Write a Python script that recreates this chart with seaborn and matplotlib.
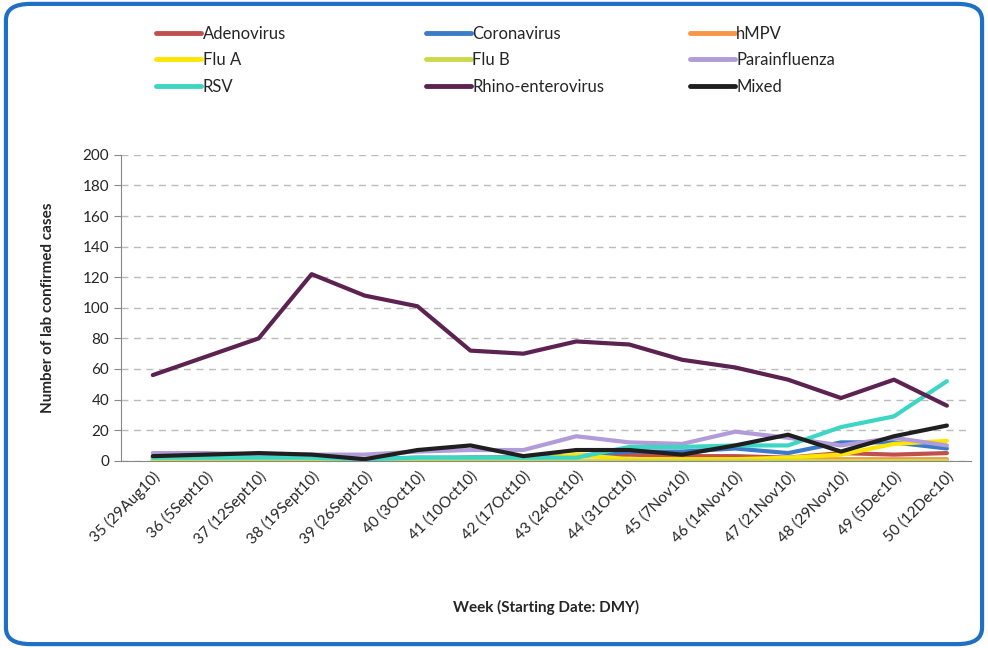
import pandas as pd
import numpy as np
import matplotlib.pyplot as plt
import seaborn as sns
from matplotlib.patches import FancyBboxPatch

# Weekly lab confirmed cases by virus

weeks = ['35 (29Aug10)', '36 (5Sept10)', '37 (12Sept10)', '38 (19Sept10)',
         '39 (26Sept10)', '40 (3Oct10)', '41 (10Oct10)', '42 (17Oct10)',
         '43 (24Oct10)', '44 (31Oct10)', '45 (7Nov10)', '46 (14Nov10)',
         '47 (21Nov10)', '48 (29Nov10)', '49 (5Dec10)', '50 (12Dec10)']

adenovirus = [1, 1, 1, 1, 1, 1, 2, 2, 3, 4, 3, 3, 2, 5, 4, 5]
coronavirus = [2, 2, 2, 2, 1, 2, 2, 2, 3, 6, 6, 8, 5, 12, 12, 8]
hmpv = [0, 0, 0, 0, 0, 0, 0, 0, 0, 0, 0, 1, 1, 1, 1, 1]
flu_a = [0, 0, 0, 0, 0, 0, 0, 0, 4, 1, 1, 1, 2, 4, 11, 13]
flu_b = [0, 0, 0, 0, 0, 0, 0, 0, 0, 0, 0, 0, 0, 0, 0, 0]
parainfluenza = [5, 5, 4, 4, 4, 6, 7, 7, 16, 12, 11, 19, 15, 10, 15, 10]
rsv = [2, 2, 2, 2, 1, 2, 2, 2, 2, 9, 9, 10, 10, 22, 29, 52]
rhino = [56, 68, 80, 122, 108, 101, 72, 70, 78, 76, 66, 61, 53, 41, 53, 36]
mixed = [3, 4, 5, 4, 1, 7, 10, 3, 7, 7, 4, 10, 17, 6, 16, 23]

series = {
    'Adenovirus': adenovirus,
    'Coronavirus': coronavirus,
    'hMPV': hmpv,
    'Flu A': flu_a,
    'Flu B': flu_b,
    'Parainfluenza': parainfluenza,
    'RSV': rsv,
    'Rhino-enterovirus': rhino,
    'Mixed': mixed,
}
colors = {
    'Adenovirus': '#C0504D',
    'Coronavirus': '#3A7CC8',
    'hMPV': '#F79646',
    'Flu A': '#FFE500',
    'Flu B': '#CCD94A',
    'Parainfluenza': '#B19CD9',
    'RSV': '#3DD6C3',
    'Rhino-enterovirus': '#5C2350',
    'Mixed': '#1F1F1F',
}

rows = []
for name, vals in series.items():
    for i, v in enumerate(vals):
        rows.append({'idx': i, 'cases': v, 'virus': name})
data = pd.DataFrame(rows)

sns.set_style('white')
plt.rcParams['font.family'] = ['Lato', 'DejaVu Sans']

fig = plt.figure(figsize=(9.88, 6.48), dpi=100)
ax = fig.add_axes([0.1225, 0.289, 0.86, 0.472])

sns.lineplot(data=data, x='idx', y='cases', hue='virus', palette=colors,
             hue_order=list(series.keys()), linewidth=3.0, ax=ax, legend=False)

ax.set_ylim(0, 200)
ax.set_yticks(range(0, 201, 20))
ax.set_xlim(-0.6, 15.45)
ax.set_xticks(range(len(weeks)))
ax.set_xticklabels(weeks, rotation=45, ha='right', rotation_mode='anchor', fontsize=11)
ax.set_xticks(np.arange(-0.5, 15.5, 1), minor=True)
ax.tick_params(axis='x', which='major', length=0, pad=6)
ax.tick_params(axis='x', which='minor', length=5, color='#888888', width=1)
ax.tick_params(axis='y', length=5, color='#888888', labelsize=11, left=True)
ax.yaxis.grid(True, linestyle=(0, (5, 4)), color='#BBBBBB', linewidth=1)
for s in ['top', 'right']:
    ax.spines[s].set_visible(False)
ax.spines['left'].set_color('#888888')
ax.spines['bottom'].set_color('#888888')

ax.set_xlabel('Week (Starting Date: DMY)', fontsize=11, fontweight='bold')
ax.set_ylabel('Number of lab confirmed cases', fontsize=11, fontweight='bold')
ax.xaxis.set_label_coords(0.5, -0.455)
ax.yaxis.set_label_coords(-0.078, 0.5)

# Legend: three columns, each its own legend so the columns sit where they do in the original
names = list(series.keys())
col_x = [0.158, 0.431, 0.698]
for c in range(3):
    col_names = names[c::3]
    handles = [plt.Line2D([], [], color=colors[n], linewidth=3.5) for n in col_names]
    fig.legend(handles, col_names, loc='upper left', bbox_to_anchor=(col_x[c], 0.96),
               frameon=False, fontsize=12, handlelength=2.7, handletextpad=0.1,
               labelspacing=0.62, borderpad=0, borderaxespad=0)

# Rounded blue frame around the chart
frame = FancyBboxPatch((0.006, 0.006), 0.988, 0.988, transform=fig.transFigure,
                       boxstyle='round,pad=0,rounding_size=0.025',
                       fill=False, edgecolor='#1F6FC5', linewidth=3)
fig.patches.append(frame)

plt.savefig('out.png', dpi=100)
